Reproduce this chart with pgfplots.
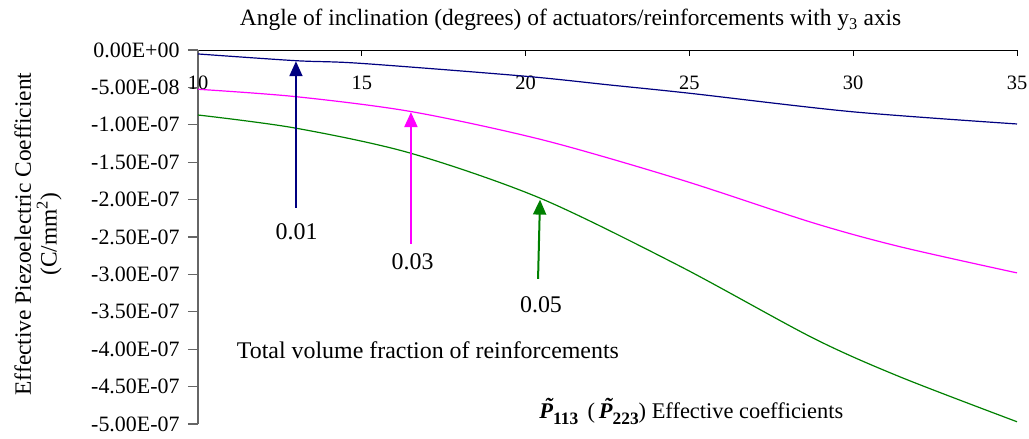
\documentclass[border=0pt]{standalone}
\usepackage{fontspec}
\setmainfont{Liberation Serif}
\usepackage{pgfplots}
\pgfplotsset{compat=1.18}
\usetikzlibrary{arrows.meta}
\definecolor{cnavy}{RGB}{0,0,128}
\definecolor{cmag}{RGB}{255,0,255}
\definecolor{cgreen}{RGB}{0,128,0}
\newcommand\tP{{\fontsize{22.5}{26}\selectfont\bfseries\itshape\ooalign{P\cr\hidewidth\kern0.18em\raisebox{0.2em}{\char"02DC}\hidewidth\cr}}}
\newcommand\sub[1]{\raisebox{-0.28em}{\fontsize{17.5}{20}\selectfont\bfseries #1}}
\begin{document}
\begin{tikzpicture}
\useasboundingbox (0,0) rectangle (1029bp,439bp);
\begin{axis}[
  at={(198bp,15bp)}, anchor=south west,
  width=819bp, height=374bp, scale only axis,
  xmin=10, xmax=35, ymin=-5e-7, ymax=0,
  axis x line*=top, axis y line*=left,
  x axis line style={black, line width=0.9bp, -},
  y axis line style={black!60, line width=1.2bp, -},
  xtick={10,15,20,25,30,35}, xticklabels={10,15,20,25,30,35},
  ytick={0,-0.5e-7,-1e-7,-1.5e-7,-2e-7,-2.5e-7,-3e-7,-3.5e-7,-4e-7,-4.5e-7,-5e-7},
  yticklabels={0.00E+00,-5.00E-08,-1.00E-07,-1.50E-07,-2.00E-07,-2.50E-07,-3.00E-07,-3.50E-07,-4.00E-07,-4.50E-07,-5.00E-07},
  scaled y ticks=false,
  xtick align=inside, ytick align=outside,
  major tick length=10bp,
  x tick style={black, line width=0.9bp, /pgfplots/major tick length=6bp},
  y tick style={black!60, line width=1.2bp},
  xticklabel style={font=\fontsize{20.5}{24}\selectfont, anchor=center, yshift=-33bp},
  yticklabel style={font=\fontsize{22}{25}\selectfont, anchor=east, xshift=-5bp},
  clip=false,
]
\addplot[cnavy, line width=1.2bp, smooth] coordinates {
 (10,-0.053e-7)(12.99,-0.143e-7)(14.95,-0.178e-7)(19.92,-0.348e-7)(22.58,-0.468e-7)
 (25.02,-0.579e-7)(29.96,-0.825e-7)(35,-0.989e-7)};
\addplot[cmag, line width=1.2bp, smooth] coordinates {
 (10,-0.525e-7)(12.99,-0.624e-7)(16.53,-0.825e-7)(20.53,-1.203e-7)(24.71,-1.73e-7)
 (28.77,-2.31e-7)(31.43,-2.63e-7)(35,-2.98e-7)};
\addplot[cgreen, line width=1.2bp, smooth] coordinates {
 (10,-0.869e-7)(12.96,-1.043e-7)(16.47,-1.377e-7)(20.44,-1.98e-7)(24.71,-2.89e-7)
 (28.77,-3.85e-7)(31.43,-4.37e-7)(35,-4.97e-7)};
\draw[cnavy, line width=2bp, -{Triangle[length=15bp,width=13bp]}] (axis cs:12.99,-2.11e-7) -- (axis cs:12.99,-0.15e-7);
\draw[cmag, line width=2bp, -{Triangle[length=15bp,width=13bp]}] (axis cs:16.50,-2.59e-7) -- (axis cs:16.50,-0.83e-7);
\draw[cgreen, line width=2bp, -{Triangle[length=15bp,width=13bp]}] (axis cs:20.38,-3.06e-7) -- (axis cs:20.44,-2.00e-7);
\node[font=\fontsize{24}{28}\selectfont] at (axis cs:13.01,-2.43e-7) {0.01};
\node[font=\fontsize{24}{28}\selectfont] at (axis cs:16.55,-2.83e-7) {0.03};
\node[font=\fontsize{24}{28}\selectfont] at (axis cs:20.47,-3.40e-7) {0.05};
\node[font=\fontsize{24}{28}\selectfont, anchor=west, inner sep=0pt] at (axis cs:11.18,-4.02e-7) {Total volume fraction of reinforcements};
\node[font=\fontsize{22.5}{26}\selectfont] at (axis cs:25.06,-4.86e-7) {\tP\sub{113}\ \,(\,\tP\sub{223}) Effective coefficients};
\node[font=\fontsize{23.5}{27}\selectfont] at (rel axis cs:0.455,1) [yshift=30bp] {Angle of inclination (degrees) of actuators/reinforcements with y\textsubscript{3} axis};
\end{axis}
\node[font=\fontsize{23.5}{26}\selectfont, rotate=90, align=center] at (38bp,205bp) {Effective Piezoelectric Coefficient\\(C/mm\textsuperscript{2})};
\end{tikzpicture}
\end{document}
